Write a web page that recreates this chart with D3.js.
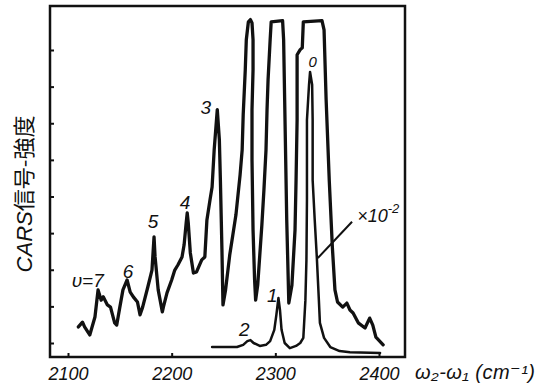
<!DOCTYPE html>
<html>
<head>
<meta charset="utf-8">
<script src="https://cdn.jsdelivr.net/npm/d3@7"></script>
<style>
  html, body { margin: 0; padding: 0; background: #fff; }
  text { fill: #111; }
</style>
</head>
<body>
<div id="chart"></div>
<script>
// CARS spectrum, main trace (x1, saturated at the top) : [wavenumber cm-1, intensity]
const mainCurve = [
  [2110, 0.44], [2114, 0.57], [2116, 0.44], [2121, 0.22], [2126, 0.71], [2129, 1.45],
  [2132, 1.17], [2134, 1.26], [2138, 1.04], [2141, 0.98], [2145, 0.55], [2147, 0.49],
  [2150, 0.98], [2153, 1.45], [2157, 1.72], [2160, 1.39], [2163, 1.26], [2167, 1.12],
  [2169.5, 0.77], [2172, 0.98], [2177, 1.53], [2181, 1.99], [2183, 2.90], [2184, 2.35],
  [2187, 1.45], [2191, 0.85], [2192, 0.98], [2195.5, 1.37], [2200, 1.72], [2203, 1.99],
  [2206, 2.13], [2210, 2.35], [2212, 2.68], [2214, 3.28], [2215, 3.55], [2216, 3.28],
  [2218, 2.46], [2221, 1.91], [2224, 1.94], [2229, 2.27], [2232, 2.35], [2234, 3.36],
  [2237, 3.91], [2239, 4.26], [2241, 5.27], [2244, 6.37], [2246, 5.55], [2247, 4.45],
  [2248.5, 2.54], [2249.5, 1.04], [2252, 1.45], [2256, 2.40], [2259, 2.95], [2262, 3.50],
  [2266, 4.59], [2268, 5.27], [2269, 6.23], [2271, 7.46], [2272, 8.28], [2274, 8.77],
  [2276, 8.83], [2277.5, 8.74], [2278.5, 8.28], [2278.5, 7.46], [2277.5, 6.37], [2277.5, 5.0],
  [2278.5, 3.09], [2280, 1.72], [2281, 1.17], [2283, 1.58], [2285, 2.40], [2287, 3.22],
  [2289, 4.18], [2291, 5.27], [2292, 6.37], [2293, 7.19], [2295, 8.28], [2296, 8.77],
  [2307, 8.80], [2308, 8.28], [2309, 6.64], [2310, 5.0], [2311, 3.36], [2313, 1.09],
  [2316, 1.58], [2319, 3.09], [2320, 4.45], [2321, 6.09], [2321, 7.87], [2324, 8.01],
  [2326, 8.06], [2327, 8.77], [2345, 8.80], [2347, 8.55], [2349, 6.64], [2352, 4.45],
  [2355, 2.62], [2357.5, 1.45], [2360, 1.12], [2365, 0.98], [2369, 1.09], [2372, 0.90],
  [2375, 0.82], [2380, 0.55], [2386.5, 0.41], [2391, 0.68], [2394, 0.49], [2397, 0.16],
  [2404, -0.05]
];

// same spectrum recorded at x10^-2 gain
const scaledCurve = [
  [2239, -0.11], [2263, -0.11], [2269, -0.05], [2273, 0.05], [2276, 0.08], [2279, 0.0],
  [2285, -0.08], [2291, -0.05], [2295, 0.05], [2299, 0.36], [2301, 0.77], [2303, 1.23],
  [2304.5, 0.90], [2306, 0.36], [2309, 0.0], [2314, -0.14], [2320, -0.08], [2324, 0.0],
  [2327, 0.14], [2329, 1.17], [2330, 2.27], [2330.5, 3.91], [2330.5, 6.09], [2332.5, 7.05],
  [2333.5, 7.40], [2335.5, 7.05], [2336, 6.09], [2336, 4.45], [2338, 3.36], [2340, 2.35],
  [2342, 1.17], [2343, 0.55], [2347, 0.14], [2353, -0.11], [2362, -0.22], [2372, -0.25],
  [2401, -0.27]
];

const xTicks = [2100, 2200, 2300, 2400];
const yTicks = [0, 1, 2, 3, 4, 5, 6, 7, 8];

// vibrational quantum number labels: [text, wavenumber, intensity]
const peakLabels = [
  ['υ=7', 2119, 1.72], ['6', 2158, 1.94], ['5', 2182, 3.31], ['4', 2213, 3.83],
  ['3', 2233, 6.42], ['2', 2270, 0.36], ['1', 2297, 1.31], ['0', 2336, 7.68]
];

// leader line to the x10^-2 note
const gainPointer = [[2341, 2.32], [2374, 3.31]];
const gainLabelAt = [2379, 3.5];

const width = 537, height = 390;
const frame = { left: 50, right: 405, top: 6, bottom: 357 };

const svg = d3.select('#chart').append('svg')
  .attr('width', width)
  .attr('height', height)
  .style('font-family', '"Liberation Sans", "DejaVu Sans", sans-serif');

const x = d3.scaleLinear().domain([2100, 2400]).range([68, 379]);
const y = d3.scaleLinear().domain([0, 8]).range([343, 50]);

// box
svg.append('rect')
  .attr('x', frame.left)
  .attr('y', frame.top)
  .attr('width', frame.right - frame.left)
  .attr('height', frame.bottom - frame.top)
  .attr('fill', 'none')
  .attr('stroke', '#111')
  .attr('stroke-width', 2.5);

const xAxis = d3.axisBottom(x)
  .tickValues(xTicks)
  .tickSize(-4)
  .tickPadding(10)
  .tickFormat(d3.format('d'));

svg.append('g')
  .attr('transform', `translate(0,${frame.bottom})`)
  .call(xAxis)
  .call(g => g.select('.domain').remove())
  .call(g => g.selectAll('line').attr('stroke', '#111').attr('stroke-width', 2))
  .call(g => g.selectAll('text')
    .attr('fill', '#111')
    .style('font-size', '18px')
    .style('font-style', 'italic'));

const yAxis = d3.axisRight(y)
  .tickValues(yTicks)
  .tickSize(4)
  .tickFormat('');

svg.append('g')
  .attr('transform', `translate(${frame.left},0)`)
  .call(yAxis)
  .call(g => g.select('.domain').remove())
  .call(g => g.selectAll('line').attr('stroke', '#111').attr('stroke-width', 2));

const line = d3.line()
  .x(d => x(d[0]))
  .y(d => y(d[1]));

svg.append('path')
  .datum(scaledCurve)
  .attr('d', line)
  .attr('fill', 'none')
  .attr('stroke', '#111')
  .attr('stroke-width', 2.5)
  .attr('stroke-linejoin', 'round')
  .attr('stroke-linecap', 'round');

svg.append('path')
  .datum(mainCurve)
  .attr('d', line)
  .attr('fill', 'none')
  .attr('stroke', '#111')
  .attr('stroke-width', 3.3)
  .attr('stroke-linejoin', 'round')
  .attr('stroke-linecap', 'round');

svg.append('path')
  .datum(gainPointer)
  .attr('d', line)
  .attr('stroke', '#111')
  .attr('stroke-width', 2);

svg.selectAll('.peak-label')
  .data(peakLabels)
  .join('text')
  .attr('class', 'peak-label')
  .attr('x', d => x(d[1]))
  .attr('y', d => y(d[2]))
  .attr('text-anchor', 'middle')
  .attr('dominant-baseline', 'central')
  .style('font-size', d => d[0] === '0' ? '15px' : '19px')
  .style('font-style', 'italic')
  .text(d => d[0]);

const gain = svg.append('text')
  .attr('x', x(gainLabelAt[0]))
  .attr('y', y(gainLabelAt[1]) + 7)
  .style('font-size', '18px')
  .style('font-style', 'italic');
gain.append('tspan').text('×10');
gain.append('tspan').attr('dy', -9).style('font-size', '13px').text('-2');

svg.append('text')
  .attr('x', 415)
  .attr('y', 379)
  .attr('textLength', 120)
  .attr('lengthAdjust', 'spacing')
  .style('font-size', '20px')
  .style('font-style', 'italic')
  .text('ω₂-ω₁ (cm⁻¹)');

const yLabel = svg.append('text')
  .attr('transform', 'translate(32,194) rotate(-90)')
  .attr('text-anchor', 'middle')
  .style('font-size', '22px');
yLabel.append('tspan')
  .style('font-style', 'italic')
  .text('CARS');
yLabel.append('tspan')
  .style('font-family', '"Noto Sans CJK JP", sans-serif')
  .text('信号-強度');
</script>
</body>
</html>
